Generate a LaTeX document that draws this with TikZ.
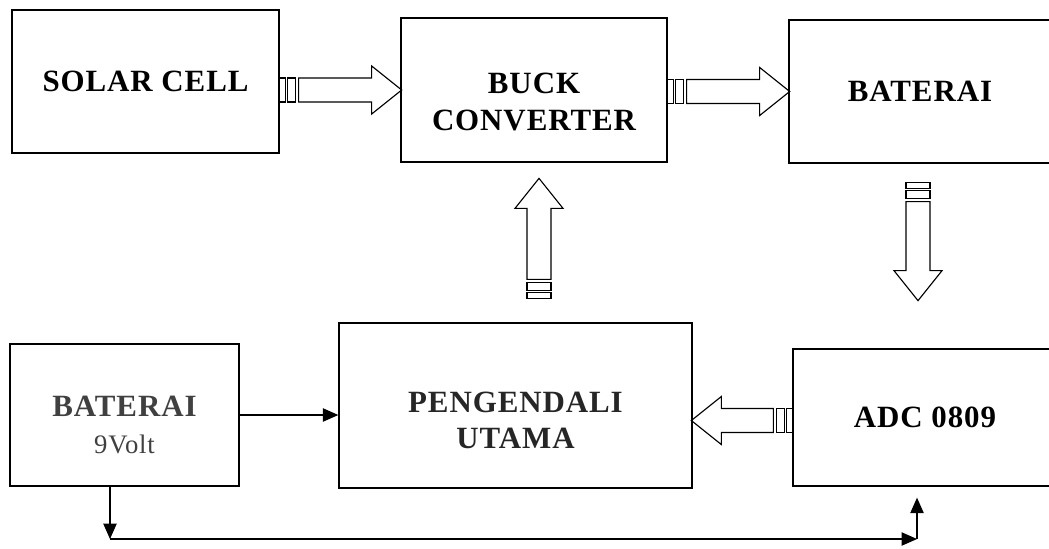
\documentclass[tikz,border=0pt]{standalone}
\usepackage{fontspec}
\setmainfont{Liberation Serif}[LetterSpace=3]
\usepackage{tikz}
\usetikzlibrary{arrows.meta,calc}
\tikzset{
  kotak/.style={draw,line width=0.9pt,inner sep=0pt,minimum width=#1},
  kotak/.default=6.675cm,
  teks/.style={font=\fontsize{22pt}{26pt}\selectfont\bfseries,align=center},
  garis/.style={draw,line width=0.8pt},
  panah/.style={-{Triangle[length=11pt,width=9.5pt]},line width=0.9pt}
}
% panah blok: titik awal, sudut, panjang (dalam px)
\newcommand{\panahblok}[3]{%
  \begin{scope}[shift={#1},rotate=#2]
    \draw[garis] (0,-12) rectangle (6,12);
    \draw[garis] (8,-12) rectangle (16,12);
    \draw[garis] (19,-12) -- (#3-30,-12) -- (#3-30,-24) -- (#3,0)
      -- (#3-30,24) -- (#3-30,12) -- (19,12) -- cycle;
  \end{scope}}

\begin{document}
\begin{tikzpicture}[x=0.025cm,y=-0.025cm]
  \useasboundingbox (0,0) rectangle (1049,548);
  % baris atas
  \node[kotak=6.675cm,minimum height=3.575cm,teks] (solar) at (145.5,81.5) {SOLAR CELL};
  \node[kotak=6.65cm,minimum height=3.6cm,
    label={[teks,yshift=-0.3cm]center:{BUCK\\CONVERTER}}] (buck) at (534,90) {};
  \node[kotak=6.55cm,minimum height=3.575cm,teks] (bat) at (920,91.5) {BATERAI};
  % baris bawah
  \node[kotak=5.725cm,minimum height=3.55cm,
    label={[teks,text=black!75,yshift=-0.25cm]center:{BATERAI\\{\fontsize{19pt}{24pt}\selectfont\mdseries 9Volt}}}] (b9) at (124.5,415) {};
  \node[kotak=8.825cm,minimum height=4.125cm,
    label={[teks,text=black!85,yshift=-0.375cm]center:{PENGENDALI\\UTAMA}}] (peng) at (515.5,405.5) {};
  \node[kotak=6.6cm,minimum height=3.425cm,teks] (adc) at (925,417.5) {ADC 0809};
  % panah blok
  \panahblok{(solar.east |- buck.west)}{0}{122}
  \panahblok{(buck.east |- bat.west)}{0}{122}
  \panahblok{($(bat.south)+(-2,19)$)}{270}{118}
  \panahblok{($(buck.south |- peng.north)+(5,-24)$)}{90}{120}
  \panahblok{($(adc.west)+(0,3)$)}{180}{101}
  % jalur catu 9Volt
  \coordinate (s1) at (110,539);
  \coordinate (s2) at (917,539);
  \draw[panah] (b9.east) -- (b9.east -| peng.west);
  \draw[panah] (b9.south -| s1) -- (s1);
  \draw[panah] (s1) -- (s2);
  \draw[panah] (s2) -- ($(adc.south -| s2)+(0,11)$);
\end{tikzpicture}
\end{document}
